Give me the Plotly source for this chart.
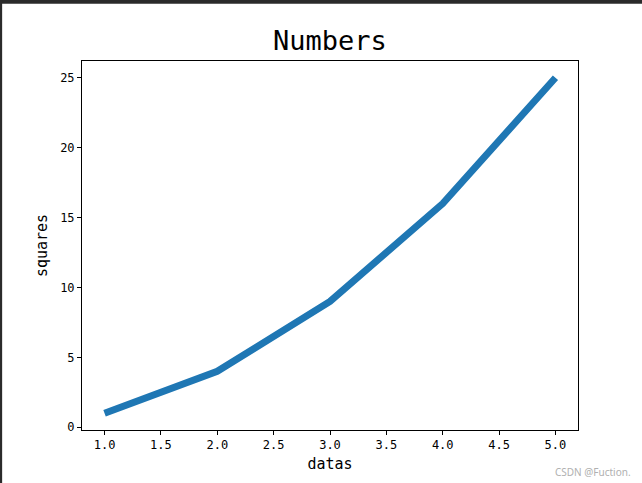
import plotly.graph_objects as go

datas = [1, 2, 3, 4, 5]
squares = [1, 4, 9, 16, 25]
x_ticks = [1.0, 1.5, 2.0, 2.5, 3.0, 3.5, 4.0, 4.5, 5.0]
x_tick_labels = ["1.0", "1.5", "2.0", "2.5", "3.0", "3.5", "4.0", "4.5", "5.0"]
y_ticks = [0, 5, 10, 15, 20, 25]

FONT = "DejaVu Sans Mono, Noto Sans CJK SC, monospace"

fig = go.Figure()
fig.add_trace(go.Scatter(
    x=datas, y=squares, mode="lines",
    line=dict(color="#1f77b4", width=7),
    showlegend=False,
))

axis_common = dict(
    showline=True, linecolor="black", linewidth=1, mirror=True,
    ticks="outside", ticklen=4, tickwidth=1, tickcolor="black",
    showgrid=False, zeroline=False,
    tickfont=dict(family=FONT, size=12, color="black"),
)

fig.update_layout(
    width=642, height=483,
    margin=dict(l=82, r=64, t=61, b=53),
    paper_bgcolor="white", plot_bgcolor="white",
    title=dict(text="Numbers", x=0.514, xanchor="center", y=0.917, yanchor="middle",
               font=dict(family=FONT, size=27, color="black")),
    xaxis=dict(range=[0.8, 5.2], tickvals=x_ticks, ticktext=x_tick_labels,
               title=dict(text="datas", font=dict(family=FONT, size=15, color="black"), standoff=7),
               **axis_common),
    yaxis=dict(range=[-0.2, 26.2], tickvals=y_ticks,
               title=dict(text="squares", font=dict(family=FONT, size=15, color="black"), standoff=8),
               **axis_common),
    annotations=[dict(text="CSDN @Fuction.", xref="paper", yref="paper",
                      x=1.11, y=-0.115, xanchor="right", yanchor="middle",
                      showarrow=False, font=dict(family="Noto Sans, sans-serif", size=10, color="#b0b0b0"))],
    shapes=[
        dict(type="rect", xref="paper", yref="paper", x0=-0.2, x1=1.2, y0=1.155, y1=1.2,
             fillcolor="#2b2b2b", line=dict(width=0), layer="above"),
        dict(type="rect", xref="paper", yref="paper", x0=-0.2, x1=-0.161, y0=-0.2, y1=1.2,
             fillcolor="#2b2b2b", line=dict(width=0), layer="above"),
    ],
)

fig.write_html("out.html", config={"displayModeBar": False},
               post_script="document.body.style.margin='0';document.body.style.padding='0';")
